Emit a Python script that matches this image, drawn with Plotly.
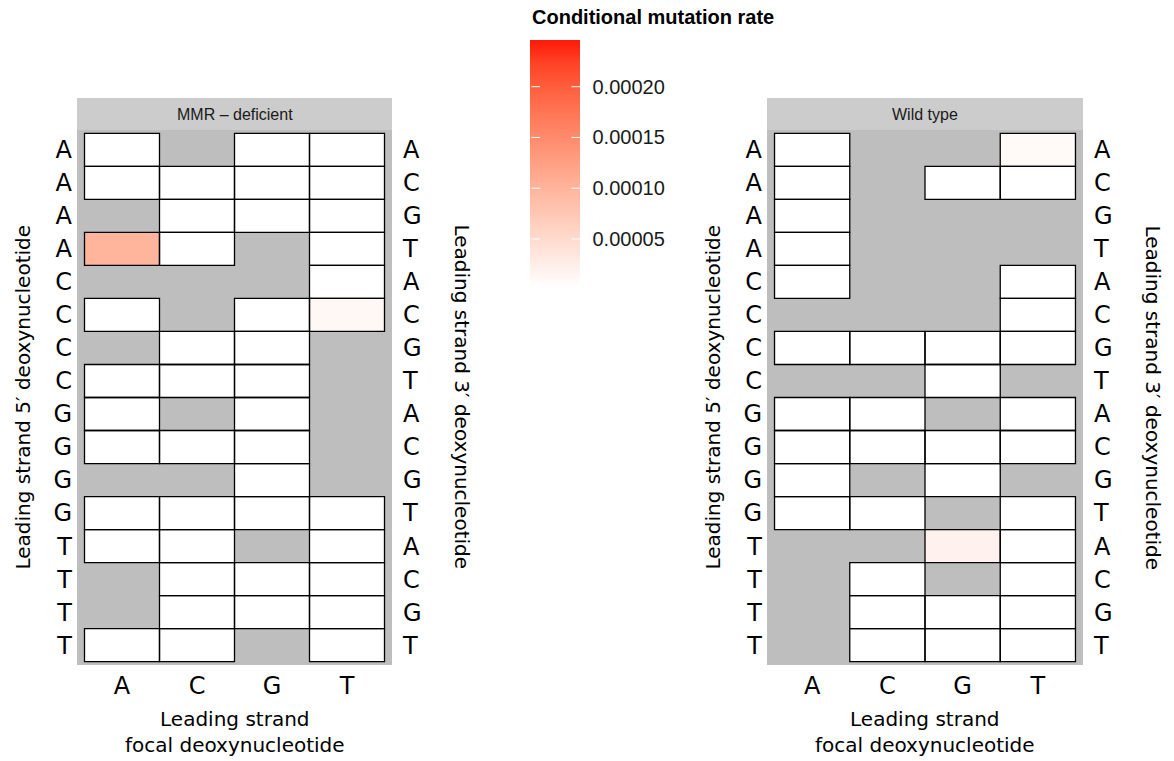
import plotly.graph_objects as go

# ---------------- data ----------------
focal = ["A", "C", "G", "T"]
five_prime = ["A"] * 4 + ["C"] * 4 + ["G"] * 4 + ["T"] * 4
three_prime = ["A", "C", "G", "T"] * 4
panels = ["MMR \u2013 deficient", "Wild type"]

# rows: 5'/3' context top->bottom, columns: focal A C G T ; None = not observed
mmr_rate = [
    [0, None, 0, 0],
    [0, 0, 0, 0],
    [None, 0, 0, 0],
    [1.0e-4, 0, None, 0],
    [None, None, None, 0],
    [0, None, 0, 1.2e-5],
    [None, 0, 0, None],
    [0, 0, 0, None],
    [0, None, 0, None],
    [0, 0, 0, None],
    [None, None, 0, None],
    [0, 0, 0, 0],
    [0, 0, None, 0],
    [None, 0, 0, 0],
    [None, 0, 0, 0],
    [0, 0, None, 0],
]
wt_rate = [
    [0, None, None, 1.0e-5],
    [0, None, 0, 0],
    [0, None, None, None],
    [0, None, None, None],
    [0, None, None, 0],
    [None, None, None, 0],
    [0, 0, 0, 0],
    [None, None, 0, None],
    [0, 0, None, 0],
    [0, 0, 0, 0],
    [0, None, 0, None],
    [0, 0, None, 0],
    [None, None, 2.0e-5, 0],
    [None, 0, None, 0],
    [None, 0, 0, 0],
    [None, 0, 0, 0],
]
rate_min = 2.7e-6
rate_max = 2.46e-4
cbar_ticks = [5e-5, 1e-4, 1.5e-4, 2e-4]
cbar_ticktext = ["0.00005", "0.00010", "0.00015", "0.00020"]


# ---------------- colour scale (Lab interpolation white -> red, like ggplot) ----------------
def lab_to_hex(L, a, b):
    fy = (L + 16) / 116
    fx = fy + a / 500
    fz = fy - b / 200

    def finv(t):
        return t ** 3 if t ** 3 > 0.008856 else (t - 16 / 116) / 7.787

    X, Y, Z = 0.95047 * finv(fx), 1.0 * finv(fy), 1.08883 * finv(fz)
    r = 3.2406 * X - 1.5372 * Y - 0.4986 * Z
    g = -0.9689 * X + 1.8758 * Y + 0.0415 * Z
    bb = 0.0557 * X - 0.2040 * Y + 1.0570 * Z

    def gam(c):
        c = max(0.0, min(1.0, c))
        return 12.92 * c if c <= 0.0031308 else 1.055 * c ** (1 / 2.4) - 0.055

    return "#%02x%02x%02x" % tuple(int(round(gam(c) * 255)) for c in (r, g, bb))


white_lab = (100.0, 0.0, 0.0)
red_lab = (54.5, 78.5, 66.0)
n_stops = 11
colorscale = []
for k in range(n_stops):
    t = k / (n_stops - 1)
    L = white_lab[0] + (red_lab[0] - white_lab[0]) * t
    a = white_lab[1] + (red_lab[1] - white_lab[1]) * t
    b = white_lab[2] + (red_lab[2] - white_lab[2]) * t
    colorscale.append([t, lab_to_hex(L, a, b)])

# ---------------- layout geometry ----------------
W, H = 1174, 761
px = lambda v: v / W
py = lambda v: 1 - v / H

panel_x = [(77, 392), (767, 1083)]
panel_top, panel_bot = 130, 665
strip_top = 98
bar_left, bar_right, bar_top, bar_len = 530, 580, 40, 247

fig = go.Figure()
shapes = []
annotations = []

datasets = [mmr_rate, wt_rate]
axis_ids = [("x", "y", "y2"), ("x2", "y3", "y4")]
xs = list(range(len(focal)))
ys = list(range(len(five_prime)))

for p, data in enumerate(datasets):
    xa, ya, ya_r = axis_ids[p]
    colored = [[v if (v is not None and v > 0) else None for v in row] for row in data]
    whites = [[0 if (v is not None and v == 0) else None for v in row] for row in data]
    fig.add_trace(go.Heatmap(
        x=xs, y=ys, z=whites, xaxis=xa, yaxis=ya,
        colorscale=[[0, "white"], [1, "white"]], zmin=0, zmax=1,
        showscale=False, hoverinfo="skip",
    ))
    fig.add_trace(go.Heatmap(
        x=xs, y=ys, z=colored, xaxis=xa, yaxis=ya,
        coloraxis="coloraxis", hoverinfo="skip",
    ))
    fig.add_trace(go.Scatter(x=[None], y=[None], xaxis=xa, yaxis=ya_r,
                             showlegend=False, hoverinfo="skip"))
    # tile borders
    for i, row in enumerate(data):
        for j, v in enumerate(row):
            if v is None:
                continue
            shapes.append(dict(
                type="rect", xref=xa, yref=ya,
                x0=j - 0.5, x1=j + 0.5, y0=i - 0.5, y1=i + 0.5,
                line=dict(color="black", width=1.3), fillcolor="rgba(0,0,0,0)",
                layer="above",
            ))
    x0, x1 = panel_x[p]
    # strip
    shapes.append(dict(type="rect", xref="paper", yref="paper",
                       x0=px(x0), x1=px(x1), y0=py(panel_top), y1=py(strip_top),
                       fillcolor="#CCCCCC", line=dict(width=0), layer="below"))
    annotations.append(dict(text=panels[p], xref="paper", yref="paper",
                            x=px((x0 + x1) / 2), y=py((panel_top + strip_top) / 2),
                            showarrow=False, xanchor="center", yanchor="middle",
                            font=dict(family="Liberation Sans, Arial", size=16, color="#1A1A1A")))
    # axis titles
    annotations.append(dict(text="Leading strand 5\u2032 deoxynucleotide", xref="paper", yref="paper",
                            x=px(x0 - 55), y=py((panel_top + panel_bot) / 2), textangle=-90,
                            showarrow=False, xanchor="center", yanchor="middle",
                            font=dict(family="DejaVu Sans", size=20, color="black")))
    annotations.append(dict(text="Leading strand 3\u2032 deoxynucleotide", xref="paper", yref="paper",
                            x=px(x1 + 70), y=py((panel_top + panel_bot) / 2), textangle=90,
                            showarrow=False, xanchor="center", yanchor="middle",
                            font=dict(family="DejaVu Sans", size=20, color="black")))
    annotations.append(dict(text="Leading strand<br>focal deoxynucleotide", xref="paper", yref="paper",
                            x=px((x0 + x1) / 2), y=py(732),
                            showarrow=False, xanchor="center", yanchor="middle",
                            font=dict(family="DejaVu Sans", size=20, color="black")))

tickfont = dict(family="DejaVu Sans", size=24, color="black")
xrange_ = [-0.6, len(focal) - 0.4]
yrange_ = [len(five_prime) - 0.4, -0.6]
ydom = [py(panel_bot), py(panel_top)]

common_x = dict(range=xrange_, tickvals=xs, ticktext=focal, showgrid=False, zeroline=False,
                ticks="", tickfont=tickfont, ticklabelstandoff=4, fixedrange=True)
common_y = dict(range=yrange_, tickvals=ys, showgrid=False, zeroline=False,
                ticks="", tickfont=tickfont, fixedrange=True)

fig.update_layout(
    width=W, height=H,
    margin=dict(l=0, r=0, t=0, b=0),
    paper_bgcolor="white",
    plot_bgcolor="#BEBEBE",
    showlegend=False,
    xaxis=dict(domain=[px(panel_x[0][0]), px(panel_x[0][1])], anchor="y", **common_x),
    yaxis=dict(domain=ydom, anchor="x", ticktext=five_prime, ticklabelstandoff=4, **common_y),
    yaxis2=dict(overlaying="y", side="right", anchor="x", ticktext=three_prime,
                ticklabelstandoff=10, **common_y),
    xaxis2=dict(domain=[px(panel_x[1][0]), px(panel_x[1][1])], anchor="y3", **common_x),
    yaxis3=dict(domain=ydom, anchor="x2", ticktext=five_prime, ticklabelstandoff=4, **common_y),
    yaxis4=dict(overlaying="y3", side="right", anchor="x2", ticktext=three_prime,
                ticklabelstandoff=10, **common_y),
    coloraxis=dict(
        colorscale=colorscale, cmin=rate_min, cmax=rate_max,
        colorbar=dict(
            x=px(bar_left), xanchor="left", xpad=0, ypad=0,
            y=py(bar_top), yanchor="top", len=bar_len / H, lenmode="fraction",
            thickness=bar_right - bar_left, thicknessmode="pixels", outlinewidth=0,
            tickvals=cbar_ticks, ticktext=cbar_ticktext,
            ticks="outside", ticklen=9, tickcolor="rgba(0,0,0,0)",
            tickfont=dict(family="Liberation Sans, Arial", size=20, color="#1A1A1A"),
        ),
    ),
)

# white tick marks on both sides of colour bar (drawn as arrow-less annotations above the bar)
bar_bottom = py(bar_top) - bar_len / H
for tv in cbar_ticks:
    yy = bar_bottom + (tv - rate_min) / (rate_max - rate_min) * (bar_len / H)
    for xend in (bar_left + 10, bar_right):
        annotations.append(dict(xref="paper", yref="paper", x=px(xend), y=yy,
                                ax=-10, ay=0, axref="pixel", ayref="pixel", text="",
                                showarrow=True, arrowhead=0, arrowwidth=1,
                                arrowcolor="white", standoff=0, startstandoff=0))

annotations.append(dict(text="<b>Conditional mutation rate</b>", xref="paper", yref="paper",
                        x=px(bar_left), y=py(17), xanchor="left", yanchor="middle", showarrow=False,
                        font=dict(family="Liberation Sans, Arial", size=20, color="black")))

fig.update_layout(shapes=shapes, annotations=annotations)
fig.write_html("out.html")
